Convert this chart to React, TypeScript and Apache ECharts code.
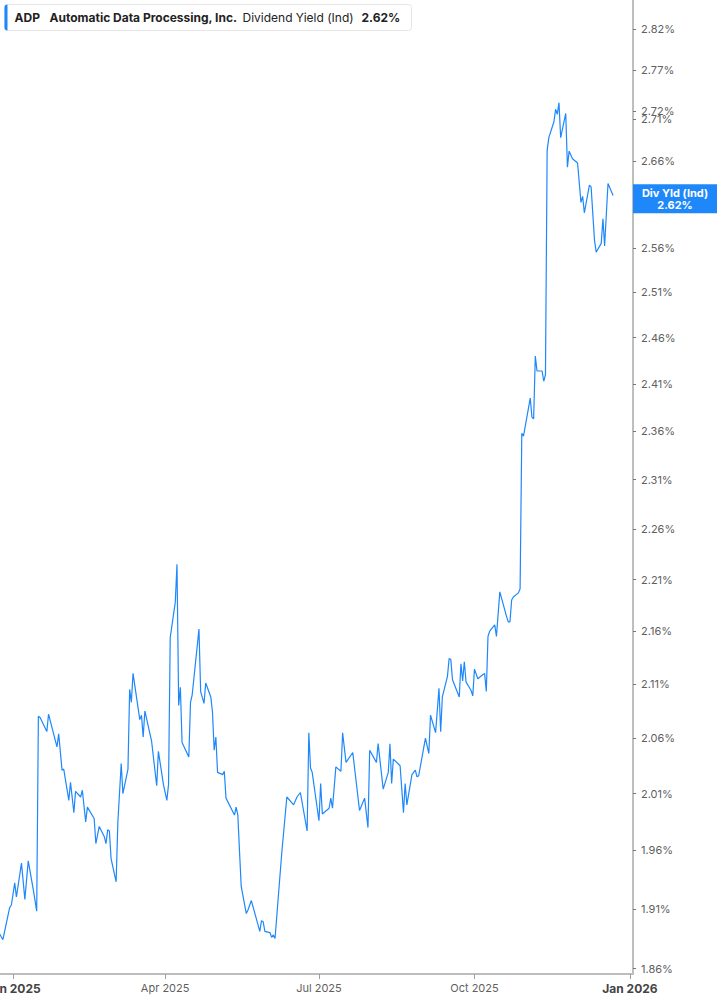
import React, { useEffect, useRef } from 'react';
import * as echarts from 'echarts';

// daily indicated dividend yield, %
const dates = [
  '2024-12-24', '2024-12-26', '2024-12-30', '2024-12-31', '2025-01-02', '2025-01-03', '2025-01-06', '2025-01-08',
  '2025-01-10', '2025-01-13', '2025-01-15', '2025-01-16', '2025-01-17', '2025-01-21', '2025-01-22', '2025-01-27',
  '2025-01-28', '2025-01-30', '2025-01-31', '2025-02-03', '2025-02-04', '2025-02-06', '2025-02-07', '2025-02-10',
  '2025-02-11', '2025-02-13', '2025-02-14', '2025-02-18', '2025-02-19', '2025-02-21', '2025-02-24', '2025-02-25',
  '2025-02-26', '2025-02-27', '2025-02-28', '2025-03-03', '2025-03-04', '2025-03-06', '2025-03-07', '2025-03-10',
  '2025-03-11', '2025-03-12', '2025-03-13', '2025-03-17', '2025-03-18', '2025-03-19', '2025-03-20', '2025-03-24',
  '2025-03-27', '2025-03-28', '2025-03-31', '2025-04-02', '2025-04-03', '2025-04-04', '2025-04-07', '2025-04-08',
  '2025-04-09', '2025-04-10', '2025-04-11', '2025-04-15', '2025-04-16', '2025-04-17', '2025-04-21', '2025-04-22',
  '2025-04-24', '2025-04-25', '2025-04-28', '2025-04-29', '2025-04-30', '2025-05-01', '2025-05-02', '2025-05-05',
  '2025-05-06', '2025-05-07', '2025-05-12', '2025-05-13', '2025-05-14', '2025-05-15', '2025-05-16', '2025-05-19',
  '2025-05-20', '2025-05-22', '2025-05-27', '2025-05-28', '2025-05-29', '2025-05-30', '2025-06-02', '2025-06-03',
  '2025-06-04', '2025-06-05', '2025-06-09', '2025-06-12', '2025-06-16', '2025-06-18', '2025-06-20', '2025-06-24',
  '2025-06-25', '2025-06-26', '2025-06-27', '2025-07-01', '2025-07-02', '2025-07-03', '2025-07-07', '2025-07-08',
  '2025-07-09', '2025-07-11', '2025-07-14', '2025-07-15', '2025-07-17', '2025-07-21', '2025-07-25', '2025-07-28',
  '2025-07-30', '2025-07-31', '2025-08-04', '2025-08-05', '2025-08-08', '2025-08-11', '2025-08-12', '2025-08-13',
  '2025-08-14', '2025-08-18', '2025-08-20', '2025-08-21', '2025-08-22', '2025-08-25', '2025-08-27', '2025-08-28',
  '2025-08-29', '2025-09-02', '2025-09-04', '2025-09-05', '2025-09-08', '2025-09-10', '2025-09-11', '2025-09-12',
  '2025-09-15', '2025-09-16', '2025-09-17', '2025-09-18', '2025-09-22', '2025-09-23', '2025-09-24', '2025-09-25',
  '2025-09-26', '2025-09-29', '2025-09-30', '2025-10-01', '2025-10-03', '2025-10-06', '2025-10-07', '2025-10-08',
  '2025-10-09', '2025-10-10', '2025-10-13', '2025-10-14', '2025-10-16', '2025-10-20', '2025-10-21', '2025-10-22',
  '2025-10-23', '2025-10-24', '2025-10-27', '2025-10-28', '2025-10-29', '2025-10-30', '2025-11-03', '2025-11-04',
  '2025-11-05', '2025-11-06', '2025-11-07', '2025-11-10', '2025-11-11', '2025-11-12', '2025-11-13', '2025-11-14',
  '2025-11-17', '2025-11-18', '2025-11-19', '2025-11-20', '2025-11-21', '2025-11-24', '2025-11-25', '2025-11-26',
  '2025-11-28', '2025-12-01', '2025-12-03', '2025-12-04', '2025-12-05', '2025-12-08', '2025-12-09', '2025-12-11',
  '2025-12-12', '2025-12-15', '2025-12-16', '2025-12-17', '2025-12-19', '2025-12-22',
];

const yields = [
  1.889, 1.884, 1.911, 1.913, 1.932, 1.920, 1.949, 1.918,
  1.951, 1.926, 1.908, 2.080, 2.079, 2.066, 2.082, 2.052,
  2.064, 2.031, 2.032, 2.004, 2.020, 1.993, 2.012, 2.007,
  2.013, 1.985, 1.998, 1.988, 1.966, 1.981, 1.972, 1.966,
  1.978, 1.977, 1.953, 1.933, 1.984, 2.037, 2.010, 2.032,
  2.105, 2.093, 2.120, 2.077, 2.081, 2.061, 2.085, 2.057,
  2.017, 2.048, 2.018, 2.004, 2.018, 2.154, 2.188, 2.225,
  2.090, 2.107, 2.056, 2.043, 2.093, 2.100, 2.162, 2.103,
  2.092, 2.111, 2.098, 2.084, 2.049, 2.061, 2.029, 2.027,
  2.030, 2.006, 1.991, 1.998, 1.991, 1.959, 1.929, 1.906,
  1.909, 1.917, 1.891, 1.900, 1.899, 1.891, 1.890, 1.886,
  1.888, 1.885, 1.958, 2.007, 2.000, 2.007, 2.011, 1.977,
  2.065, 2.033, 2.029, 1.986, 2.019, 1.992, 1.997, 2.006,
  1.997, 2.034, 2.030, 2.065, 2.038, 2.047, 1.995, 2.006,
  1.980, 2.049, 2.038, 2.055, 2.014, 2.029, 2.055, 2.019,
  2.041, 2.035, 1.993, 2.019, 2.000, 2.027, 2.031, 2.025,
  2.026, 2.060, 2.046, 2.081, 2.065, 2.106, 2.066, 2.098,
  2.117, 2.134, 2.133, 2.114, 2.098, 2.129, 2.113, 2.131,
  2.112, 2.104, 2.099, 2.124, 2.115, 2.119, 2.120, 2.103,
  2.155, 2.160, 2.166, 2.155, 2.198, 2.174, 2.169, 2.169,
  2.190, 2.193, 2.197, 2.201, 2.358, 2.355, 2.395, 2.375,
  2.373, 2.440, 2.424, 2.424, 2.413, 2.420, 2.673, 2.688,
  2.707, 2.722, 2.716, 2.730, 2.688, 2.717, 2.653, 2.672,
  2.663, 2.658, 2.612, 2.619, 2.600, 2.632, 2.630, 2.569,
  2.555, 2.565, 2.593, 2.562, 2.634, 2.620,
];

const yTicks = [
  1.86, 1.91, 1.96, 2.01, 2.06, 2.11, 2.16, 2.21, 2.26, 2.31, 2.36, 2.41, 2.46, 2.51, 2.56, 2.61, 2.66, 2.71,
  2.72, 2.77, 2.82,
];
const xTickDates = ['2025-01-01', '2025-04-01', '2025-07-01', '2025-10-01', '2026-01-01'];
const xTickLabels = ['Jan 2025', 'Apr 2025', 'Jul 2025', 'Oct 2025', 'Jan 2026'];

const lastYield = 2.62;
const FONT = 'Inter, "Noto Sans", sans-serif';

// the yield axis is logarithmic: plot ln(yield) on a value axis
const ln = (v: number) => Math.log(v);
const ts = (d: string) => new Date(d + 'T00:00:00').getTime();

const App: React.FC = () => {
  const chartRef = useRef<HTMLDivElement>(null);

  useEffect(() => {
    if (!chartRef.current) return;
    const chart = echarts.init(chartRef.current, null, { renderer: 'svg' });
    const xTickTimes = xTickDates.map(ts);

    chart.setOption({
      animation: false,
      backgroundColor: '#fff',
      grid: { left: 0, right: 84, top: 0, bottom: 31, containLabel: false, outerBoundsMode: 'none' },
      xAxis: {
        type: 'value',
        min: new Date('2024-12-24T07:00:00').getTime(),
        max: new Date('2026-01-02T19:00:00').getTime(),
        splitLine: { show: false },
        axisLine: { show: true, lineStyle: { color: '#bdbdbd', width: 2 } },
        axisTick: { show: true, length: 5, lineStyle: { color: '#9e9e9e' }, customValues: xTickTimes },
        axisLabel: {
          customValues: xTickTimes,
          margin: 8,
          hideOverlap: false,
          formatter: (v: number) => {
            const i = xTickTimes.indexOf(v);
            const txt = i >= 0 ? xTickLabels[i] : '';
            return txt.startsWith('Jan') ? `{y|${txt}}` : `{m|${txt}}`;
          },
          rich: {
            y: { fontFamily: FONT, fontSize: 12, fontWeight: 'bold', color: '#444' },
            m: { fontFamily: FONT, fontSize: 11, color: '#5f5f5f' },
          },
        },
      },
      yAxis: {
        type: 'value',
        position: 'right',
        min: ln(1.8556),
        max: ln(2.8571),
        splitLine: { show: false },
        axisLine: { show: true, lineStyle: { color: '#a8a8a8', width: 1.5 } },
        axisTick: {
          show: true,
          length: 3,
          lineStyle: { color: '#777' },
          customValues: yTicks.map(ln),
        },
        axisLabel: {
          customValues: yTicks.map(ln),
          margin: 8,
          hideOverlap: false,
          fontFamily: FONT,
          fontSize: 11,
          color: '#5f5f5f',
          formatter: (v: number) => Math.exp(v).toFixed(2) + '%',
        },
      },
      graphic: [
        {
          type: 'group',
          left: 4,
          top: 4,
          children: [
            {
              type: 'rect',
              shape: { x: 0, y: 0, width: 407, height: 26, r: 3 },
              style: { fill: '#fff', stroke: '#e6e6e6', lineWidth: 1 },
            },
            {
              type: 'rect',
              shape: { x: 0, y: 0, width: 3, height: 26, r: [3, 0, 0, 3] },
              style: { fill: '#1e88fa' },
            },
            {
              type: 'text',
              x: 10,
              y: 13,
              style: { text: 'ADP', font: `bold 12px ${FONT}`, fill: '#222', textVerticalAlign: 'middle' },
            },
            {
              type: 'text',
              x: 45,
              y: 13,
              style: {
                text: 'Automatic Data Processing, Inc.',
                font: `bold 12px ${FONT}`,
                fill: '#222',
                textVerticalAlign: 'middle',
              },
            },
            {
              type: 'text',
              x: 238,
              y: 13,
              style: { text: 'Dividend Yield (Ind)', font: `12px ${FONT}`, fill: '#222', textVerticalAlign: 'middle' },
            },
            {
              type: 'text',
              x: 357,
              y: 13,
              style: { text: `${lastYield.toFixed(2)}%`, font: `bold 12px ${FONT}`, fill: '#222', textVerticalAlign: 'middle' },
            },
          ],
        },
      ],
      series: [
        {
          type: 'line',
          data: dates.map((d, i) => [ts(d), ln(yields[i])]),
          showSymbol: false,
          clip: false,
          lineStyle: { color: '#1e88fa', width: 1.2 },
          emphasis: { disabled: true },
          markLine: {
            silent: true,
            symbol: ['none', 'none'],
            lineStyle: { color: 'rgba(0,0,0,0)', width: 0 },
            label: {
              show: true,
              position: 'end',
              distance: 0,
              offset: [0, -4],
              backgroundColor: '#1e88fa',
              padding: [3, 6, 2, 6],
              formatter: `{a|Div Yld (Ind)}\n{b|${lastYield.toFixed(2)}%}`,
              rich: {
                a: { fontFamily: FONT, fontSize: 11, fontWeight: 'bold', color: '#fff', width: 72, align: 'center', lineHeight: 12 },
                b: { fontFamily: FONT, fontSize: 11, fontWeight: 'bold', color: '#fff', width: 72, align: 'center', lineHeight: 12 },
              },
            },
            data: [{ yAxis: ln(lastYield) }],
          },
        },
      ],
    });

    return () => {
      chart.dispose();
    };
  }, []);

  return (
    <div
      ref={chartRef}
      style={{ position: 'absolute', left: 0, top: 0, width: 717, height: 1005 }}
    />
  );
};

export default App;
